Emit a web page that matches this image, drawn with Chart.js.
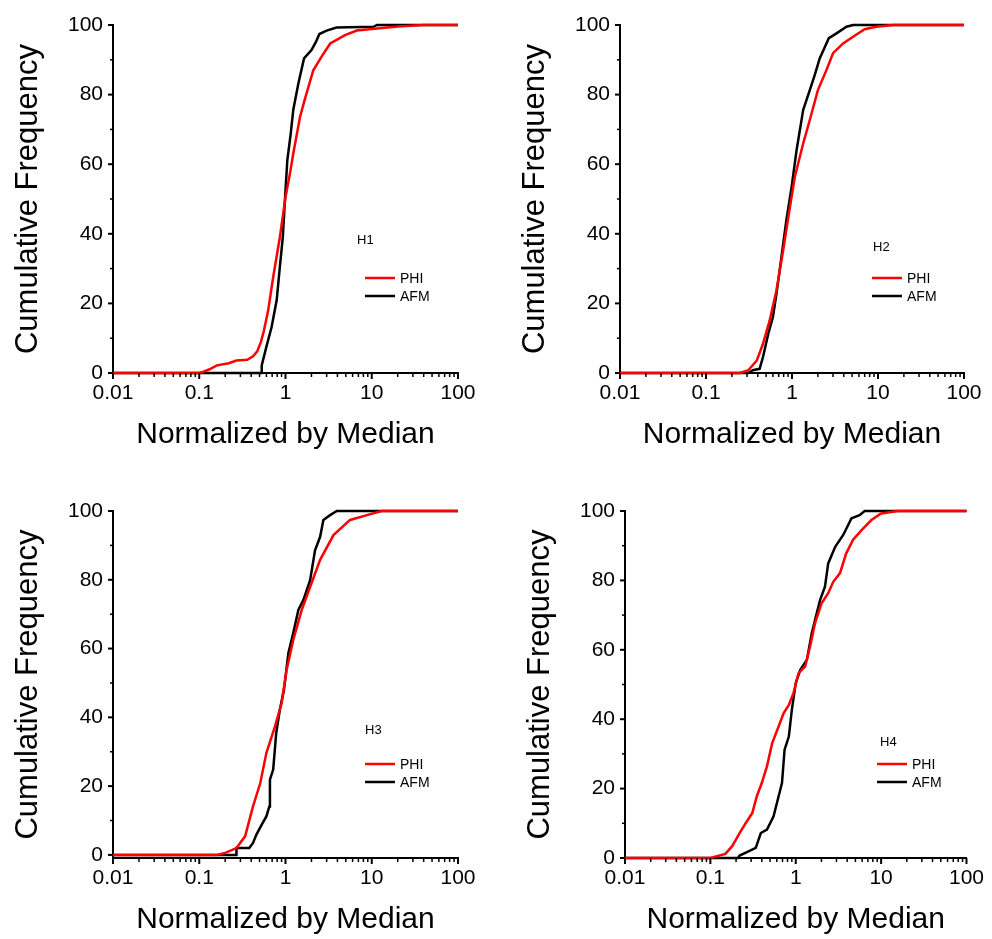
<!DOCTYPE html>
<html>
<head>
<meta charset="utf-8">
<title>Cumulative frequency H1-H4</title>
<script src="https://cdn.jsdelivr.net/npm/chart.js@4/dist/chart.umd.min.js"></script>
<style>
  html, body { margin: 0; padding: 0; background: #fff; overflow: hidden; }
  #page { position: relative; width: 992px; height: 939px; }
  .panel { position: absolute; }
</style>
</head>
<body>
<div id="page"></div>
<script>
// series and tick labels
const panelNames = ['H1', 'H2', 'H3', 'H4'];
const seriesNames = ['PHI', 'AFM'];
const xTickValues = [0.01, 0.1, 1, 10, 100];
const xTickLabels = ['0.01', '0.1', '1', '10', '100'];
const yTickValues = [0, 20, 40, 60, 80, 100];
const yMinorValues = [10, 30, 50, 70, 90];

// [normalized value, cumulative %]
const h1Phi = [[0.01,0],[0.1,0],[0.11,0.3],[0.13,1.0],[0.16,2.2],[0.22,2.8],[0.27,3.6],[0.36,3.8],[0.42,4.8],[0.47,6.2],[0.52,9],[0.56,12],[0.63,18],[0.72,27.6],[0.86,39],[1.0,50.5],[1.12,57],[1.23,63],[1.47,73.5],[1.69,79],[2.1,87],[2.63,91],[3.3,94.7],[4.9,97.1],[6.7,98.4],[11.5,99],[20,99.6],[40,100],[100,100]];
const h1Afm = [[0.01,0],[0.52,0],[0.53,2.2],[0.6,7.5],[0.69,13.2],[0.79,20.9],[0.86,30.5],[0.93,39],[0.99,50.6],[1.05,61.2],[1.15,68.8],[1.23,75.6],[1.41,83.2],[1.64,90.4],[2.0,92.8],[2.26,95.2],[2.47,97.4],[3.0,98.4],[3.9,99.3],[10.5,99.5],[11.5,100],[100,100]];
const h2Phi = [[0.01,0],[0.25,0],[0.31,0.8],[0.39,3.6],[0.46,8.4],[0.55,15.1],[0.66,23.8],[0.79,35.3],[0.92,45.8],[1.08,56.4],[1.35,66],[1.61,72.7],[2.0,81.3],[2.52,87.1],[3.0,91.9],[3.93,94.7],[5.13,96.6],[7.0,98.8],[9.5,99.5],[15,100],[100,100]];
const h2Afm = [[0.01,0],[0.31,0],[0.35,0.8],[0.42,1.2],[0.46,4.6],[0.53,11.3],[0.6,16.1],[0.66,22.8],[0.755,33.4],[0.86,43.9],[0.99,53.5],[1.13,64],[1.35,75.6],[1.61,81.3],[1.84,85.7],[2.1,90.4],[2.68,96.2],[3.29,97.6],[4.3,99.5],[5.13,100],[100,100]];
const h3Phi = [[0.01,0],[0.16,0],[0.2,0.6],[0.27,2.0],[0.34,5.4],[0.42,14.1],[0.51,20.9],[0.6,29.6],[0.755,37.4],[0.9,44.1],[1.03,53.8],[1.23,62.5],[1.54,71.2],[2.0,79],[2.52,85.8],[3.6,93],[5.6,97.4],[8.8,98.8],[13,100],[100,100]];
const h3Afm = [[0.01,0],[0.27,0],[0.27,2.0],[0.38,2.0],[0.42,3.5],[0.46,5.9],[0.53,8.8],[0.6,11.2],[0.65,14.1],[0.66,21.9],[0.72,24.8],[0.78,35.4],[0.86,42.2],[0.96,48],[1.08,58.7],[1.23,64.5],[1.41,71.2],[1.61,74.1],[1.93,79.9],[2.2,88.6],[2.52,92.5],[2.75,97.4],[3.29,98.8],[3.93,100],[100,100]];
const h4Phi = [[0.01,0],[0.1,0],[0.15,1.2],[0.18,3.4],[0.22,7.2],[0.26,10.1],[0.31,13],[0.35,17.8],[0.4,21.6],[0.46,26.4],[0.53,33.1],[0.63,37.9],[0.72,41.7],[0.83,44.1],[0.94,47.5],[1.08,53.3],[1.29,55.2],[1.47,60.9],[1.68,67.6],[2.0,73.3],[2.4,76.3],[2.75,79.6],[3.3,82.1],[3.9,87.8],[4.7,91.7],[5.9,94.5],[7.7,97.4],[10,99.3],[15.7,100],[100,100]];
const h4Afm = [[0.01,0],[0.21,0],[0.22,0.7],[0.28,1.9],[0.34,2.9],[0.39,7.2],[0.46,8.2],[0.55,12],[0.63,17.8],[0.69,21.6],[0.74,31.2],[0.83,35],[0.9,42.7],[1.0,50.4],[1.13,54.2],[1.35,57.1],[1.54,64.8],[1.76,70.5],[1.93,74.4],[2.2,78.2],[2.4,84.9],[2.9,89.7],[3.6,93.1],[4.5,97.9],[5.6,98.8],[6.4,100],[100,100]];

const panelSeries = [[h1Phi, h1Afm], [h2Phi, h2Afm], [h3Phi, h3Afm], [h4Phi, h4Afm]];
const seriesColors = ['#ff0000', '#000000'];

// where each panel sits on the page (canvas box + plot area inside it)
const panelBoxes = [
  { left: 0,   top: 0,   w: 496, h: 470, area: { l: 113, r: 458, t: 25, b: 373 }, yMin: 0,    tag: { x: 244, y: 215 } },
  { left: 496, top: 0,   w: 496, h: 470, area: { l: 124, r: 468, t: 25, b: 373 }, yMin: 0,    tag: { x: 253, y: 222 } },
  { left: 0,   top: 470, w: 496, h: 469, area: { l: 113, r: 458, t: 41, b: 388 }, yMin: -0.9, tag: { x: 252, y: 219 } },
  { left: 496, top: 470, w: 496, h: 469, area: { l: 129, r: 473, t: 41, b: 388 }, yMin: 0,    tag: { x: 255, y: 231 } }
];

const FONT = 'Liberation Sans, Arial, Helvetica, sans-serif';

// outward major/minor ticks + the little in-plot legend
const decor = {
  id: 'decor',
  afterDraw(chart, args, opts) {
    const ctx = chart.ctx;
    const a = chart.chartArea;
    const xs = chart.scales.x, ys = chart.scales.y;
    ctx.save();
    ctx.strokeStyle = '#000';

    // x ticks
    for (let d = 0; d < xTickValues.length; d++) {
      const base = xTickValues[d];
      const px = xs.getPixelForValue(base);
      ctx.lineWidth = 2;
      ctx.beginPath(); ctx.moveTo(px, a.bottom); ctx.lineTo(px, a.bottom + 6); ctx.stroke();
      if (d < xTickValues.length - 1) {
        ctx.lineWidth = 1.5;
        for (let k = 2; k <= 9; k++) {
          const mx = xs.getPixelForValue(base * k);
          ctx.beginPath(); ctx.moveTo(mx, a.bottom); ctx.lineTo(mx, a.bottom + 4); ctx.stroke();
        }
      }
    }
    // y ticks
    ctx.lineWidth = 2;
    yTickValues.forEach(v => {
      const py = ys.getPixelForValue(v);
      ctx.beginPath(); ctx.moveTo(a.left, py); ctx.lineTo(a.left - 5, py); ctx.stroke();
    });
    ctx.lineWidth = 1.5;
    yMinorValues.forEach(v => {
      const py = ys.getPixelForValue(v);
      ctx.beginPath(); ctx.moveTo(a.left, py); ctx.lineTo(a.left - 3, py); ctx.stroke();
    });

    // legend
    ctx.fillStyle = '#000';
    ctx.textBaseline = 'middle';
    ctx.textAlign = 'left';
    ctx.font = '13px ' + FONT;
    ctx.fillText(opts.tag, a.left + opts.tagX, a.top + opts.tagY);
    ctx.font = '14px ' + FONT;
    const rows = [253, 271];
    chart.data.datasets.forEach((ds, i) => {
      const y = a.top + rows[i];
      ctx.strokeStyle = ds.borderColor;
      ctx.lineWidth = 2.5;
      ctx.beginPath(); ctx.moveTo(a.left + 252, y); ctx.lineTo(a.left + 282, y); ctx.stroke();
      ctx.fillText(ds.label, a.left + 287, y + 1);
    });
    ctx.restore();
  }
};

const page = document.getElementById('page');

panelBoxes.forEach((box, p) => {
  const div = document.createElement('div');
  div.className = 'panel';
  div.style.left = box.left + 'px';
  div.style.top = box.top + 'px';
  const canvas = document.createElement('canvas');
  canvas.width = box.w;
  canvas.height = box.h;
  canvas.style.width = box.w + 'px';
  canvas.style.height = box.h + 'px';
  div.appendChild(canvas);
  page.appendChild(div);

  const a = box.area;
  new Chart(canvas, {
    type: 'line',
    data: {
      datasets: seriesNames.map((name, i) => ({
        label: name,
        data: panelSeries[p][i].map(([x, y]) => ({ x, y })),
        borderColor: seriesColors[i],
        backgroundColor: seriesColors[i],
        borderWidth: 2.5,
        pointRadius: 0,
        tension: 0,
        fill: false,
        clip: 4
      }))
    },
    options: {
      responsive: false,
      animation: false,
      devicePixelRatio: 1,
      layout: { padding: { left: 0, top: a.t, right: box.w - a.r, bottom: 0 } },
      plugins: {
        legend: { display: false },
        tooltip: { enabled: false },
        decor: { tag: panelNames[p], tagX: box.tag.x, tagY: box.tag.y }
      },
      scales: {
        x: {
          type: 'logarithmic',
          min: 0.01,
          max: 100,
          afterBuildTicks: s => { s.ticks = xTickValues.map(v => ({ value: v })); },
          afterFit: s => { s.height = box.h - a.b; },
          grid: { display: false, drawTicks: false },
          border: { display: true, color: '#000', width: 2 },
          ticks: {
            autoSkip: false, maxRotation: 0, padding: 8, color: '#000',
            font: { family: FONT, size: 21 },
            callback: (v, i) => xTickLabels[i]
          },
          title: {
            display: true, text: 'Normalized by Median', color: '#000',
            font: { family: FONT, size: 30 },
            padding: { top: 0, bottom: (box.h - a.b) - 62 - 18 }
          }
        },
        y: {
          min: box.yMin,
          max: 100,
          afterBuildTicks: s => { s.ticks = yTickValues.map(v => ({ value: v })); },
          afterFit: s => { s.width = a.l; },
          grid: { display: false, drawTicks: false },
          border: { display: true, color: '#000', width: 2 },
          ticks: {
            padding: 10, color: '#000',
            font: { family: FONT, size: 21 }
          },
          title: {
            display: true, text: 'Cumulative Frequency', color: '#000',
            font: { family: FONT, size: 31 },
            padding: { top: (a.l - 85) - 18.6, bottom: 0 }
          }
        }
      }
    },
    plugins: [decor]
  });
});
</script>
</body>
</html>
